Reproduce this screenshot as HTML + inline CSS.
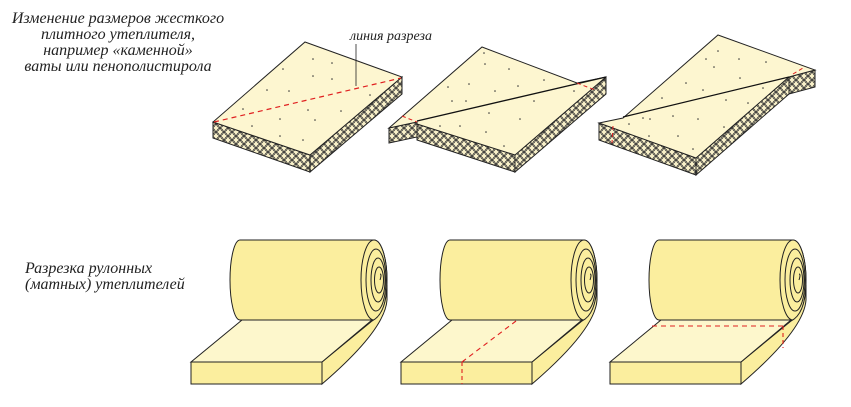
<!DOCTYPE html>
<html><head><meta charset="utf-8"><style>
html,body{margin:0;padding:0;background:#fff;width:851px;height:407px;overflow:hidden}
svg{display:block}
text{font-family:"Liberation Serif","DejaVu Serif",serif;font-style:italic;fill:#222}
</style></head><body>
<svg width="851" height="407" viewBox="0 0 851 407" xmlns="http://www.w3.org/2000/svg">
<defs>
<pattern id="hc" width="8" height="8" patternUnits="userSpaceOnUse">
<rect width="8" height="8" fill="#f8f0c8"/>
<ellipse cx="4" cy="4" rx="3.4" ry="3.6" fill="none" stroke="#333" stroke-width="0.7"/>
<ellipse cx="0" cy="0" rx="3.4" ry="3.6" fill="none" stroke="#333" stroke-width="0.7"/>
<ellipse cx="8" cy="0" rx="3.4" ry="3.6" fill="none" stroke="#333" stroke-width="0.7"/>
<ellipse cx="0" cy="8" rx="3.4" ry="3.6" fill="none" stroke="#333" stroke-width="0.7"/>
<ellipse cx="8" cy="8" rx="3.4" ry="3.6" fill="none" stroke="#333" stroke-width="0.7"/>
</pattern>
<g id="roll">
<path d="M240,240 L374,240 A13,40 0 0 1 374,320 L240,320 A10,40 0 0 1 240,240 Z" fill="#fbee9e" stroke="#222" stroke-width="1"/>
<ellipse cx="374" cy="280" rx="13" ry="40" fill="#fbee9e" stroke="#222"/>
<ellipse cx="376" cy="280" rx="10" ry="31" fill="none" stroke="#222"/>
<ellipse cx="378" cy="280" rx="7" ry="22" fill="none" stroke="#222"/>
<ellipse cx="379" cy="280" rx="4.5" ry="13" fill="none" stroke="#222"/>
<path d="M380,280 q2,-6 0,-6" fill="none" stroke="#222"/>
<path d="M322,362 L372,321 Q386,314 387,285 L387,300 Q385,330 322,384 Z" fill="#fbee9e" stroke="#222"/>
<polygon points="191,362 322,362 372,320 242,320" fill="#fdf7cc" stroke="#222"/>
<rect x="191" y="362" width="131" height="22" fill="#fbee9e" stroke="#222"/>
</g>
</defs>

<text font-size="16" text-anchor="middle" x="118" y="23">Изменение размеров жесткого</text>
<text font-size="16" text-anchor="middle" x="118" y="39">плитного утеплителя,</text>
<text font-size="16" text-anchor="middle" x="118" y="55">например «каменной»</text>
<text font-size="16" text-anchor="middle" x="118" y="71">ваты или пенополистирола</text>
<text font-size="14" x="350" y="40">линия разреза</text>

<text font-size="16" x="25" y="273">Разрезка рулонных</text>
<text font-size="16" x="25" y="289">(матных) утеплителей</text>

<!-- board 1 -->
<polygon points="213,122 310,155 310,172 213,138" fill="url(#hc)" stroke="#222"/>
<polygon points="310,155 402,77 402,94 310,172" fill="url(#hc)" stroke="#222"/>
<polygon points="305,42 402,77 310,155 213,122" fill="#fdf6d0" stroke="#222"/>
<line x1="214" y1="122" x2="401" y2="78" stroke="#e02020" stroke-dasharray="5,4" stroke-width="1.2"/>
<line x1="356" y1="44" x2="356" y2="86" stroke="#222" stroke-width="0.8"/>
<g fill="#333"><circle cx="313" cy="59" r="0.8"/><circle cx="332" cy="63" r="0.8"/><circle cx="283" cy="69" r="0.8"/><circle cx="313" cy="76" r="0.8"/><circle cx="332" cy="79" r="0.8"/><circle cx="267" cy="90" r="0.8"/><circle cx="289" cy="91" r="0.8"/><circle cx="243" cy="109" r="0.8"/><circle cx="308" cy="110" r="0.8"/><circle cx="341" cy="111" r="0.8"/><circle cx="280" cy="119" r="0.8"/><circle cx="315" cy="120" r="0.8"/><circle cx="252" cy="126" r="0.8"/><circle cx="280" cy="136" r="0.8"/><circle cx="303" cy="140" r="0.8"/><circle cx="370" cy="95" r="0.8"/></g>

<!-- board 2 -->
<polygon points="389,128 417,122 417,137 389,143" fill="url(#hc)" stroke="#222"/>
<polygon points="417,124 515,155 515,172 417,140" fill="url(#hc)" stroke="#222"/>
<polygon points="515,155 606,77 606,94 515,172" fill="url(#hc)" stroke="#222"/>
<polygon points="482,47 577,83 606,77 515,155 417,124 417,122 389,128" fill="#fdf6d0" stroke="#222"/>
<line x1="417" y1="121" x2="606" y2="77" stroke="#111" stroke-width="1.3"/>
<line x1="402" y1="116" x2="417" y2="122" stroke="#e02020" stroke-dasharray="4,3"/>
<line x1="577" y1="83" x2="595" y2="90" stroke="#e02020" stroke-dasharray="4,3"/>
<g fill="#333"><circle cx="484" cy="53" r="0.8"/><circle cx="485" cy="64" r="0.8"/><circle cx="509" cy="69" r="0.8"/><circle cx="544" cy="80" r="0.8"/><circle cx="469" cy="84" r="0.8"/><circle cx="448" cy="87" r="0.8"/><circle cx="495" cy="91" r="0.8"/><circle cx="518" cy="86" r="0.8"/><circle cx="452" cy="101" r="0.8"/><circle cx="466" cy="101" r="0.8"/><circle cx="534" cy="101" r="0.8"/><circle cx="574" cy="91" r="0.8"/><circle cx="489" cy="113" r="0.8"/><circle cx="440" cy="126" r="0.8"/><circle cx="460" cy="126" r="0.8"/><circle cx="486" cy="132" r="0.8"/><circle cx="520" cy="119" r="0.8"/><circle cx="504" cy="146" r="0.8"/></g>

<!-- board 3 -->
<polygon points="599,123 696,158 696,175 599,140" fill="url(#hc)" stroke="#222"/>
<polygon points="696,158 789,77 789,94 696,175" fill="url(#hc)" stroke="#222"/>
<polygon points="789,77 815,70 815,87 789,94" fill="url(#hc)" stroke="#222"/>
<polygon points="718,35 815,70 789,77 696,158 599,123 623,118" fill="#fdf6d0" stroke="#222"/>
<line x1="623" y1="117" x2="789" y2="77" stroke="#111" stroke-width="1.3"/>
<line x1="613" y1="126" x2="612" y2="143" stroke="#e02020" stroke-dasharray="4,3"/>
<line x1="793" y1="74" x2="803" y2="68" stroke="#e02020" stroke-dasharray="4,3"/>
<g fill="#333"><circle cx="718" cy="51" r="0.8"/><circle cx="706" cy="59" r="0.8"/><circle cx="739" cy="59" r="0.8"/><circle cx="766" cy="62" r="0.8"/><circle cx="714" cy="67" r="0.8"/><circle cx="740" cy="78" r="0.8"/><circle cx="686" cy="83" r="0.8"/><circle cx="703" cy="90" r="0.8"/><circle cx="763" cy="88" r="0.8"/><circle cx="662" cy="98" r="0.8"/><circle cx="726" cy="100" r="0.8"/><circle cx="748" cy="103" r="0.8"/><circle cx="643" cy="118" r="0.8"/><circle cx="650" cy="119" r="0.8"/><circle cx="673" cy="116" r="0.8"/><circle cx="698" cy="119" r="0.8"/><circle cx="629" cy="124" r="0.8"/><circle cx="724" cy="127" r="0.8"/><circle cx="649" cy="136" r="0.8"/><circle cx="678" cy="136" r="0.8"/><circle cx="693" cy="149" r="0.8"/></g>

<!-- rolls -->
<use href="#roll"/>
<use href="#roll" transform="translate(210,0)"/>
<use href="#roll" transform="translate(419,0)"/>
<line x1="462" y1="362" x2="516" y2="321" stroke="#e02020" stroke-dasharray="5,4" stroke-width="1.1"/>
<line x1="462" y1="362" x2="462" y2="384" stroke="#e02020" stroke-dasharray="4,3" stroke-width="1.1"/>
<line x1="652" y1="326" x2="783" y2="326" stroke="#e02020" stroke-dasharray="5,4" stroke-width="1.1"/>
<line x1="783" y1="326" x2="783" y2="348" stroke="#e02020" stroke-dasharray="4,3" stroke-width="1.1"/>
</svg>
</body></html>
